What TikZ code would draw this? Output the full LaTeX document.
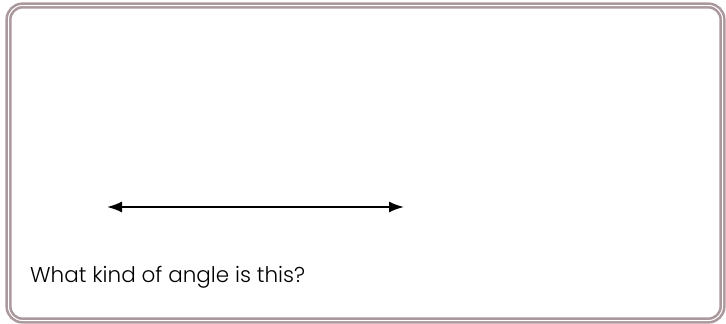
\documentclass[tikz,border=0pt]{standalone}
\usepackage{fontspec}
\setmainfont{Poppins}[UprightFont={* Light}]
\usetikzlibrary{arrows.meta}
\definecolor{frame}{RGB}{170,152,156}
\tikzset{
  framebox/.style={draw=frame, line width=2.6pt, double=white, double distance=1pt, rounded corners=14pt},
  ray/.style={line width=1.8pt, {Latex[length=15pt,width=11pt]}-{Latex[length=15pt,width=11pt]}},
  question/.style={anchor=base west, inner sep=0pt, font=\fontsize{21.5}{26}\selectfont}
}
\begin{document}
\begin{tikzpicture}[x=1pt,y=-1pt]
\useasboundingbox (0,0) rectangle (726,324);
\draw[framebox] (8.5,5.5) rectangle (722.5,320.5);
\coordinate (a) at (107,207);
\coordinate (b) at (404,207);
\draw[ray] (a) -- (b);
\node[question] (q) at (30,282) {What kind of angle is this?};
\end{tikzpicture}
\end{document}
